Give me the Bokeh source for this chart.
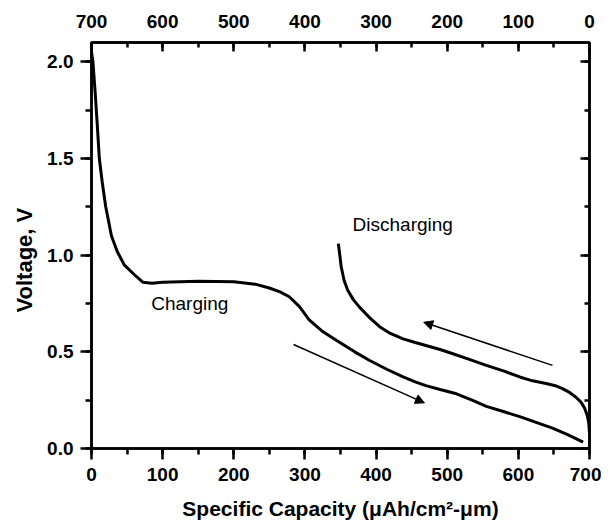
from bokeh.plotting import figure
from bokeh.models import (Range1d, LinearAxis, SingleIntervalTicker, NumeralTickFormatter,
                          CustomJSTickFormatter, Arrow, NormalHead, ColumnDataSource, Title)
from bokeh.core.properties import value
from bokeh.embed import file_html
from bokeh.resources import INLINE

# ---- data ----
charge_x = [0, 2, 5, 8, 11, 15, 20, 28, 36, 46, 60, 72, 85, 100, 150, 200, 230, 250, 265, 278,
            292, 306, 325, 344, 370, 391, 415, 438, 455, 470, 490, 513, 535, 555, 580, 602,
            625, 648, 670, 691]
charge_y = [2.05, 2.0, 1.85, 1.68, 1.5, 1.38, 1.25, 1.1, 1.02, 0.95, 0.9, 0.86, 0.855, 0.86,
            0.865, 0.862, 0.85, 0.83, 0.81, 0.785, 0.735, 0.665, 0.605, 0.56, 0.5, 0.455,
            0.41, 0.37, 0.345, 0.325, 0.305, 0.283, 0.25, 0.218, 0.19, 0.165, 0.135, 0.105,
            0.07, 0.033]
discharge_x = [347, 349, 351, 355, 360, 368, 377, 390, 405, 420, 438, 455, 470, 490, 508, 530,
               555, 580, 602, 620, 639, 652, 662, 672, 681, 688, 693, 697, 699, 700]
discharge_y = [1.06, 1.0, 0.94, 0.87, 0.82, 0.77, 0.73, 0.68, 0.63, 0.595, 0.567, 0.548, 0.533,
               0.512, 0.49, 0.462, 0.43, 0.4, 0.37, 0.35, 0.336, 0.325, 0.31, 0.29, 0.265,
               0.24, 0.21, 0.17, 0.13, 0.08]
arrow_x0 = [648, 284]
arrow_y0 = [0.43, 0.538]
arrow_x1 = [467, 468]
arrow_y1 = [0.653, 0.236]
note_text = ["Charging", "Discharging"]
note_x = [84, 367]
note_y = [0.75, 1.157]
x_title = "Specific Capacity (μAh/cm²-μm)"
y_title = "Voltage, V"

FONT = "Liberation Sans"

p = figure(frame_width=498, frame_height=406, output_backend="svg", toolbar_location=None,
           x_range=Range1d(0, 700), y_range=Range1d(0, 2.1),
           x_axis_location=None, y_axis_location=None,
           min_border_left=91, min_border_right=12, min_border_top=42, min_border_bottom=72,
           background_fill_color="white", border_fill_color="white")
p.xgrid.visible = False
p.ygrid.visible = False
p.outline_line_color = "black"
p.outline_line_width = 2.5

p.extra_x_ranges = {"top": Range1d(700, 0)}
bottom_axis = LinearAxis()
left_axis = LinearAxis()
top_axis = LinearAxis(x_range_name="top")
right_axis = LinearAxis(formatter=CustomJSTickFormatter(code="return ''"))
p.add_layout(bottom_axis, "below")
p.add_layout(left_axis, "left")
p.add_layout(top_axis, "above")
p.add_layout(right_axis, "right")

for ax in [bottom_axis, top_axis]:
    ax.ticker = SingleIntervalTicker(interval=100, num_minor_ticks=2)
for ax in [left_axis, right_axis]:
    ax.ticker = SingleIntervalTicker(interval=0.5, num_minor_ticks=2)
left_axis.formatter = NumeralTickFormatter(format="0.0")

for ax in [bottom_axis, left_axis, top_axis, right_axis]:
    ax.axis_line_width = 2.5
    ax.major_tick_line_width = 2.5
    ax.minor_tick_line_width = 2.5
    ax.major_label_text_font = FONT
    ax.major_label_text_font_style = "bold"
    ax.major_label_text_font_size = "19px"
    ax.major_label_text_color = "black"
    ax.axis_label_text_font = FONT
    ax.axis_label_text_font_style = "bold"
    ax.axis_label_text_font_size = "21px"
    ax.axis_label_text_color = "black"

for ax in [bottom_axis, left_axis]:
    ax.major_tick_out = 11
    ax.major_tick_in = 0
    ax.minor_tick_out = 6
    ax.minor_tick_in = 0
for ax in [top_axis, right_axis]:
    ax.major_tick_out = 0
    ax.major_tick_in = 9
    ax.minor_tick_out = 0
    ax.minor_tick_in = 5

bottom_axis.axis_label = x_title
bottom_axis.major_label_standoff = 8
bottom_axis.axis_label_standoff = 13
left_axis.major_label_standoff = 7
top_axis.major_label_standoff = 15
right_axis.major_label_standoff = 0

# y axis title as a side title, placed a little below the frame centre
p.add_layout(Title(text=y_title, align="left", offset=136, standoff=16,
                   text_font=FONT, text_font_style="bold", text_font_size="22px",
                   text_color="black"), "left")

p.line(charge_x, charge_y, line_color="black", line_width=3)
p.line(discharge_x, discharge_y, line_color="black", line_width=3)

arrow_src = ColumnDataSource(dict(x0=arrow_x0, y0=arrow_y0, x1=arrow_x1, y1=arrow_y1))
p.add_layout(Arrow(source=arrow_src, x_start="x0", y_start="y0", x_end="x1", y_end="y1",
                   line_color="black", line_width=1.5,
                   end=NormalHead(size=9, line_color="black", fill_color="black", line_width=1)))

p.text(x=note_x, y=note_y, text=note_text, text_font=value(FONT), text_font_size="19px",
       text_color="black", text_baseline="alphabetic", text_align="left")

open("out.html", "w").write(file_html(p, INLINE))
